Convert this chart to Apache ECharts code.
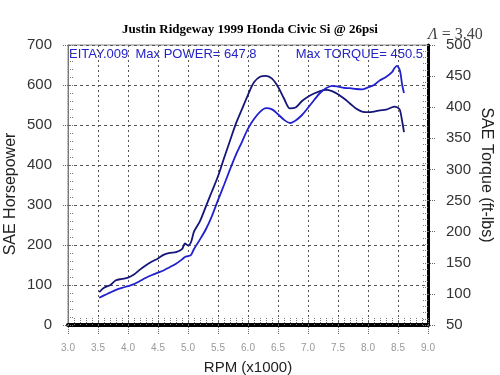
<!DOCTYPE html>
<html>
<head>
<meta charset="utf-8">
<script src="https://cdn.jsdelivr.net/npm/echarts@6/dist/echarts.min.js"></script>
<style>
html,body{margin:0;padding:0;background:#fff;}
#chart{width:500px;height:375px;}
</style>
</head>
<body>
<div id="chart"></div>
<script>
// RPM (x1000)
const rpm = [3.52,3.6,3.7,3.8,3.9,4.0,4.1,4.2,4.3,4.4,4.5,4.6,4.7,4.8,4.9,4.95,5.0,5.05,5.1,5.2,5.3,5.4,5.5,5.6,5.7,5.8,5.9,6.0,6.1,6.2,6.3,6.4,6.5,6.6,6.7,6.8,6.9,7.0,7.1,7.2,7.3,7.4,7.5,7.6,7.7,7.8,7.9,8.0,8.1,8.2,8.3,8.4,8.44,8.48,8.53,8.57,8.6];
// SAE Horsepower
const horsepower = [68,74,81,88,93,97,102,110,118,125,131,137,145,153,164,170,172,175,190,214,240,273,312,350,389,426,458,491,515,533,542,539,527,513,505,512,525,543,562,580,592,598,596,593,592,590,589,594,600,612,620,632,642,647.8,637,600,580];
// SAE Torque (ft-lbs)
const torque = [103,110,114,122,124,126,131,139,146,152,157,163,166,167,172,181,178,183,200,217,241,265,289,318,346,374,397,420,440,449,450.5,446,433,414,398,400,410,417,422,426,428,426,421,414,406,398,393,392,393,395,396,400,401,400,396,377,360];
const xTicks = {min: 3, max: 9, step: 0.5, minorStep: 0.1};
const hpTicks = {min: 0, max: 700, step: 100, minorStep: 20};
const tqTicks = {min: 50, max: 500, step: 50, minorStep: 10};
const titleText = 'Justin Ridgeway 1999 Honda Civic Si @ 26psi';
const leftNote = 'EITAY.009  Max POWER= 647.8';
const rightNote = 'Max TORQUE= 450.5';

const hpData = rpm.map((r, i) => [r, horsepower[i]]);
const tqData = rpm.map((r, i) => [r, torque[i]]);

const chart = echarts.init(document.getElementById('chart'));
const sans = 'Liberation Sans, Arial, sans-serif';
const serif = 'Liberation Serif, Times New Roman, serif';

chart.setOption({
  animation: false,
  backgroundColor: '#fff',
  title: {
    text: titleText,
    left: 'center', top: 18,
    textStyle: {fontFamily: serif, fontWeight: 'bold', fontSize: 13, color: '#000'}
  },
  grid: {left: 68, right: 72, top: 45, bottom: 50, show: true, borderColor: '#888', borderWidth: 1,
         containLabel: false, outerBoundsMode: 'none'},
  graphic: [
    {type: 'text', left: 69, top: 48, style: {text: leftNote, font: '13px ' + sans, fill: '#2424c8'}},
    {type: 'text', right: 77, top: 48, style: {text: rightNote, font: '13px ' + sans, fill: '#2424c8'}},
    {type: 'text', left: 428, top: 27, style: {
      text: '{l|Λ} = 3.40',
      font: '16px ' + serif, fill: '#444',
      rich: {l: {fontStyle: 'italic', fontFamily: serif, fontSize: 16, fill: '#444'}}
    }}
  ],
  xAxis: [
    {
      type: 'value', min: xTicks.min, max: xTicks.max, interval: xTicks.step, position: 'bottom',
      name: 'RPM (x1000)', nameLocation: 'middle', nameGap: 35,
      nameTextStyle: {fontFamily: sans, fontSize: 15, color: '#222'},
      axisLine: {show: true, onZero: false, lineStyle: {color: '#000', width: 4}},
      axisTick: {show: true, length: 10, lineStyle: {color: '#666', type: 'dotted'}},
      axisLabel: {fontFamily: sans, fontSize: 10, color: '#999', margin: 18, formatter: v => v.toFixed(1)},
      splitLine: {show: true, lineStyle: {color: '#555', type: [2, 3], width: 1}}
    },
    {
      type: 'value', min: xTicks.min, max: xTicks.max, interval: xTicks.minorStep, position: 'bottom',
      axisLine: {show: false},
      axisTick: {show: true, inside: true, length: 7, lineStyle: {color: '#777', type: 'dotted'}},
      axisLabel: {show: false}, splitLine: {show: false}
    }
  ],
  yAxis: [
    {
      type: 'value', min: hpTicks.min, max: hpTicks.max, interval: hpTicks.step, position: 'left',
      name: 'SAE Horsepower', nameLocation: 'middle', nameGap: 49, nameRotate: 90, nameMoveOverlap: false,
      nameTextStyle: {fontFamily: sans, fontSize: 16, color: '#222', padding: [0, 18, 0, 0]},
      axisLine: {show: true, onZero: false, lineStyle: {color: '#777', width: 1}},
      axisTick: {show: true, length: 6, lineStyle: {color: '#666', type: 'dotted'}},
      axisLabel: {fontFamily: sans, fontSize: 15, color: '#333', margin: 16},
      splitLine: {show: true, lineStyle: {color: '#555', type: [3, 3], width: 1}}
    },
    {
      type: 'value', min: tqTicks.min, max: tqTicks.max, interval: tqTicks.step, position: 'right',
      name: 'SAE Torque (ft-lbs)', nameLocation: 'middle', nameGap: 50, nameRotate: -90, nameMoveOverlap: false,
      nameTextStyle: {fontFamily: sans, fontSize: 16, color: '#222', padding: [0, 20, 0, 0]},
      axisLine: {show: true, onZero: false, lineStyle: {color: '#000', width: 3}},
      axisTick: {show: true, length: 7, lineStyle: {color: '#666', type: 'dotted'}},
      axisLabel: {fontFamily: sans, fontSize: 15, color: '#333', margin: 18},
      splitLine: {show: false}
    },
    {
      type: 'value', min: hpTicks.min, max: hpTicks.max, interval: hpTicks.minorStep, position: 'left',
      axisLine: {show: false},
      axisTick: {show: true, inside: true, length: 5, lineStyle: {color: '#777', type: 'dotted'}},
      axisLabel: {show: false}, splitLine: {show: false}
    },
    {
      type: 'value', min: tqTicks.min, max: tqTicks.max, interval: tqTicks.minorStep, position: 'right',
      axisLine: {show: false},
      axisTick: {show: true, inside: true, length: 6, lineStyle: {color: '#777', type: 'dotted'}},
      axisLabel: {show: false}, splitLine: {show: false}
    }
  ],
  series: [
    {
      name: 'SAE Torque', type: 'line', xAxisIndex: 0, yAxisIndex: 1, data: tqData,
      showSymbol: false, symbol: 'none', smooth: 0.3,
      lineStyle: {color: '#15157a', width: 1.8}
    },
    {
      name: 'SAE Horsepower', type: 'line', xAxisIndex: 0, yAxisIndex: 0, data: hpData,
      showSymbol: false, symbol: 'none', smooth: 0.3,
      lineStyle: {color: '#2020d0', width: 1.8}
    }
  ]
});
</script>
</body>
</html>
